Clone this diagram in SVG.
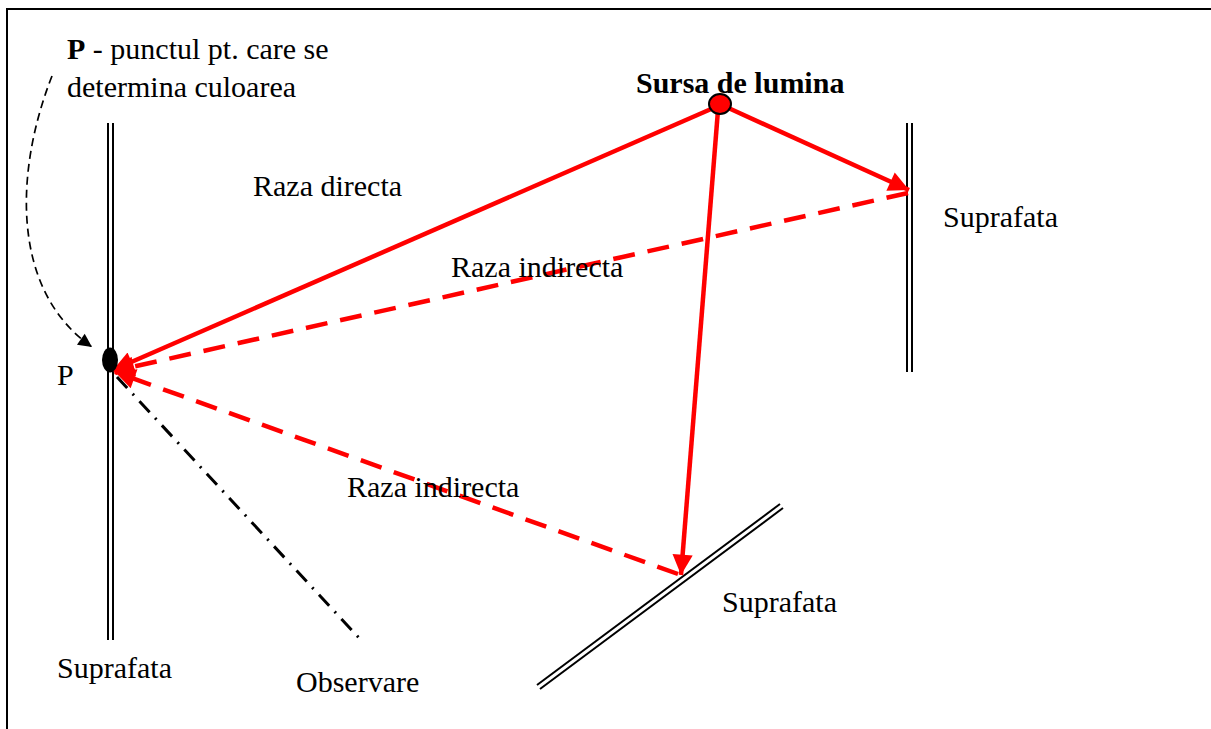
<svg xmlns="http://www.w3.org/2000/svg" width="1211" height="729" viewBox="0 0 1211 729">
<defs>
<style>
text{font-family:"Liberation Serif","Times New Roman",serif;font-size:30px;fill:#000}
.b{font-weight:bold}
.wall{stroke:#000;stroke-width:2;fill:none}
.ray{stroke:#f00;stroke-width:4.5;fill:none}
.dash{stroke-dasharray:22 13}
</style>
<marker id="ar" viewBox="0 0 10 10" refX="10" refY="5" markerWidth="5" markerHeight="4.5" markerUnits="strokeWidth" orient="auto">
<path d="M0,0 L10,5 L0,10 Z" fill="#f00"/>
</marker>
<marker id="ab" viewBox="0 0 10 10" refX="10" refY="5" markerWidth="10" markerHeight="8" markerUnits="strokeWidth" orient="auto">
<path d="M0,0 L10,5 L0,10 Z" fill="#000"/>
</marker>
</defs>
<rect x="7" y="9" width="1220" height="740" fill="none" stroke="#000" stroke-width="2"/>
<g id="wall-left"><line class="wall" x1="108" y1="123" x2="108" y2="640"/><line class="wall" x1="113" y1="123" x2="113" y2="640"/></g>
<g id="wall-right"><line class="wall" x1="907" y1="123" x2="907" y2="372"/><line class="wall" x1="912" y1="123" x2="912" y2="372"/></g>
<g id="wall-diag"><line class="wall" x1="537" y1="685" x2="780" y2="504"/><line class="wall" x1="540" y1="689" x2="783" y2="508"/></g>
<g id="connectors">
<line class="ray" x1="718" y1="106" x2="113" y2="370" marker-end="url(#ar)"/>
<line class="ray" x1="724" y1="106" x2="909" y2="190" marker-end="url(#ar)"/>
<line class="ray" x1="718" y1="110" x2="681" y2="575" marker-end="url(#ar)"/>
<line class="ray dash" x1="908" y1="193" x2="114" y2="371" marker-end="url(#ar)"/>
<line class="ray dash" x1="678" y1="574" x2="115" y2="372" marker-end="url(#ar)"/>
<line x1="117" y1="377" x2="360" y2="639" stroke="#000" stroke-width="3" stroke-dasharray="15 8 2 8"/>
<path d="M52,76 C15,170 10,290 92,347" fill="none" stroke="#000" stroke-width="1.7" stroke-dasharray="8 5" marker-end="url(#ab)"/>
</g>
<g id="source"><ellipse cx="720" cy="104" rx="11" ry="10" fill="#f00" stroke="#000" stroke-width="2"/><text class="b" x="636" y="93">Sursa de lumina</text></g>
<g id="point-p"><ellipse cx="110" cy="360" rx="8" ry="12.5" fill="#000"/><text x="57" y="385">P</text></g>
<g id="labels">
<text x="67" y="59"><tspan class="b">P</tspan> - punctul pt. care se</text>
<text x="67" y="97">determina culoarea</text>
<text x="253" y="196">Raza directa</text>
<text x="451" y="277">Raza indirecta</text>
<text x="347" y="497">Raza indirecta</text>
<text x="943" y="227">Suprafata</text>
<text x="722" y="612">Suprafata</text>
<text x="57" y="678">Suprafata</text>
<text x="296" y="692">Observare</text>
</g>
</svg>
